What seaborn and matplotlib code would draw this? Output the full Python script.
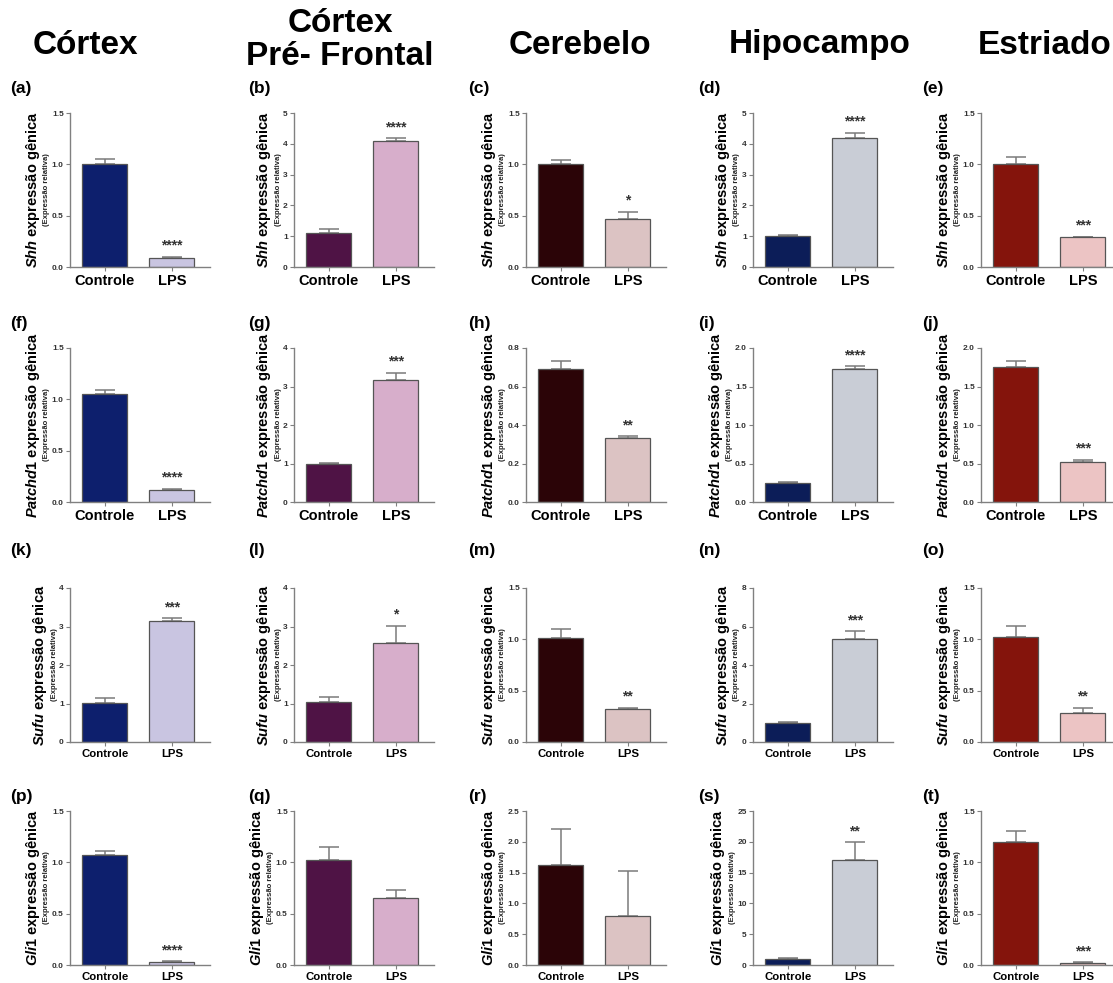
import pandas as pd
import seaborn as sns
from matplotlib import pyplot as plt

groups = ["Controle", "LPS"]
regions = ["Córtex", "Córtex\nPré- Frontal", "Cerebelo", "Hipocampo", "Estriado"]
genes = ["Shh", "Patchd1", "Sufu", "Gli1"]
letters = "abcdefghijklmnopqrst"

# bar colours per region (Controle / LPS)
ctrl_colors = ["#0d1f6d", "#4f1345", "#2b0407", "#0c1d58", "#84140c"]
lps_colors = ["#c9c5e1", "#d7aecb", "#dcc3c3", "#c9cdd6", "#ecc4c4"]

# Shh
shh_ctrl = [1.00, 1.12, 1.00, 1.00, 1.00]
shh_lps = [0.09, 4.10, 0.47, 4.18, 0.29]
shh_ctrl_sem = [0.05, 0.13, 0.04, 0.03, 0.07]
shh_lps_sem = [0.01, 0.08, 0.07, 0.17, 0.005]
shh_stars = ["****", "****", "*", "****", "***"]
shh_ymax = [1.5, 5, 1.5, 5, 1.5]
shh_step = [0.5, 1, 0.5, 1, 0.5]

# Patchd1
ptc_ctrl = [1.05, 1.00, 0.69, 0.25, 1.75]
ptc_lps = [0.12, 3.18, 0.33, 1.73, 0.52]
ptc_ctrl_sem = [0.04, 0.01, 0.045, 0.005, 0.08]
ptc_lps_sem = [0.01, 0.18, 0.012, 0.03, 0.03]
ptc_stars = ["****", "***", "**", "****", "***"]
ptc_ymax = [1.5, 4, 0.8, 2.0, 2.0]
ptc_step = [0.5, 1, 0.2, 0.5, 0.5]

# Sufu
sufu_ctrl = [1.02, 1.03, 1.01, 1.00, 1.02]
sufu_lps = [3.14, 2.58, 0.32, 5.35, 0.28]
sufu_ctrl_sem = [0.12, 0.15, 0.09, 0.02, 0.11]
sufu_lps_sem = [0.07, 0.43, 0.01, 0.40, 0.05]
sufu_stars = ["***", "*", "**", "***", "**"]
sufu_ymax = [4, 4, 1.5, 8, 1.5]
sufu_step = [1, 1, 0.5, 2, 0.5]

# Gli1
gli_ctrl = [1.07, 1.02, 1.63, 1.00, 1.20]
gli_lps = [0.03, 0.65, 0.80, 17.1, 0.02]
gli_ctrl_sem = [0.04, 0.13, 0.58, 0.10, 0.11]
gli_lps_sem = [0.005, 0.08, 0.72, 2.80, 0.005]
gli_stars = ["****", "", "", "**", "***"]
gli_ymax = [1.5, 1.5, 2.5, 25, 1.5]
gli_step = [0.5, 0.5, 0.5, 5, 0.5]

rows = [
    (shh_ctrl, shh_lps, shh_ctrl_sem, shh_lps_sem, shh_stars, shh_ymax, shh_step),
    (ptc_ctrl, ptc_lps, ptc_ctrl_sem, ptc_lps_sem, ptc_stars, ptc_ymax, ptc_step),
    (sufu_ctrl, sufu_lps, sufu_ctrl_sem, sufu_lps_sem, sufu_stars, sufu_ymax, sufu_step),
    (gli_ctrl, gli_lps, gli_ctrl_sem, gli_lps_sem, gli_stars, gli_ymax, gli_step),
]

sns.set_style("ticks")
plt.rcParams["font.family"] = ["Liberation Sans", "DejaVu Sans"]
plt.rcParams["text.color"] = "black"
plt.rcParams["mathtext.fontset"] = "custom"
plt.rcParams["mathtext.it"] = "Liberation Sans:italic:bold"
plt.rcParams["mathtext.rm"] = "Liberation Sans:bold"

W, H = 1113, 983
fig = plt.figure(figsize=(W / 100, H / 100), dpi=100)

col_left = [70, 294, 526, 753, 981]
row_top = [113, 348, 588, 811]
ax_w, ax_h = 140, 154
xtick_fs = [10.5, 10.5, 8.2, 8.2]
label_x = [10, 248, 468, 698, 922]
label_y = [88, 323, 551, 796]
title_x = [85, 340, 580, 820, 1045]
title_y = [45, 40, 45, 45, 45]

SPINE = "#808080"


def draw_panel(ax, ctrl, lps, c_sem, l_sem, star, ymax, step, c_col, l_col, xfs):
    df = pd.DataFrame({"grupo": groups, "valor": [ctrl, lps]})
    sns.barplot(data=df, x="grupo", y="valor", hue="grupo", palette=[c_col, l_col],
                legend=False, errorbar=None, width=0.67, edgecolor="#555555",
                linewidth=0.9, saturation=1, ax=ax, zorder=2)
    ax.errorbar([0, 1], [ctrl, lps], yerr=[[0, 0], [c_sem, l_sem]], fmt="none",
                ecolor="#7a7a7a", elinewidth=1.1, capsize=7, capthick=1.1, zorder=1)
    if star:
        ax.annotate(star, xy=(1, lps + l_sem), xytext=(0, 3), textcoords="offset points",
                    ha="center", va="bottom", fontsize=10, fontweight="bold", color="#333333")
    ax.set_xlim(-0.52, 1.57)
    ax.set_ylim(0, ymax)
    n = int(round(ymax / step))
    ticks = [i * step for i in range(n + 1)]
    ax.set_yticks(ticks)
    if step < 1:
        ax.set_yticklabels([f"{t:.1f}" for t in ticks])
    else:
        ax.set_yticklabels([f"{t:g}" for t in ticks])
    ax.set_xlabel("")
    ax.set_ylabel("")
    sns.despine(ax=ax)
    for s in ["left", "bottom"]:
        ax.spines[s].set_color(SPINE)
        ax.spines[s].set_linewidth(1.0)
    ax.tick_params(axis="y", length=3, width=0.8, color=SPINE, pad=1.5,
                   labelsize=6, labelcolor="#333333")
    ax.tick_params(axis="x", length=3, width=0.8, color=SPINE, pad=2,
                   labelsize=xfs, labelcolor="black")
    for t in ax.get_yticklabels():
        t.set_fontweight("bold")
    for t in ax.get_xticklabels():
        t.set_fontweight("bold")


axes = []
for r, (c_v, l_v, c_s, l_s, stars, ymaxs, steps) in enumerate(rows):
    for c in range(5):
        rect = [col_left[c] / W, 1 - (row_top[r] + ax_h) / H, ax_w / W, ax_h / H]
        ax = fig.add_axes(rect)
        draw_panel(ax, c_v[c], l_v[c], c_s[c], l_s[c], stars[c], ymaxs[c], steps[c],
                   ctrl_colors[c], lps_colors[c], xtick_fs[r])
        axes.append((ax, genes[r]))
        fig.text(label_x[c] / W, 1 - label_y[r] / H, f"({letters[r * 5 + c]})",
                 ha="left", va="center", fontsize=12.5, fontweight="bold", color="black")

for c in range(5):
    fig.text(title_x[c] / W, 1 - title_y[c] / H, regions[c], ha="center", va="center",
             fontsize=24, fontweight="bold", linespacing=1.1, color="black")

# y labels placed next to the tick labels
fig.canvas.draw()
renderer = fig.canvas.get_renderer()
inv = fig.transFigure.inverted()
for ax, gene in axes:
    boxes = [t.get_window_extent(renderer) for t in ax.get_yticklabels() if t.get_text()]
    xleft = min(b.x0 for b in boxes)
    bb = ax.get_window_extent(renderer)
    yc = bb.y0 + bb.height / 2
    fx, fy = inv.transform((xleft - 5, yc))
    fig.text(fx, fy, "(Expressão relativa)", rotation=90, ha="center", va="center",
             fontsize=5.5, fontweight="bold", color="#222222")
    fx, fy = inv.transform((xleft - 19, yc))
    fig.text(fx, fy, rf"$\mathit{{{gene}}}$ expressão gênica", rotation=90,
             ha="center", va="center", fontsize=10.5, fontweight="bold", color="black")

fig.savefig("out.png", dpi=100)
